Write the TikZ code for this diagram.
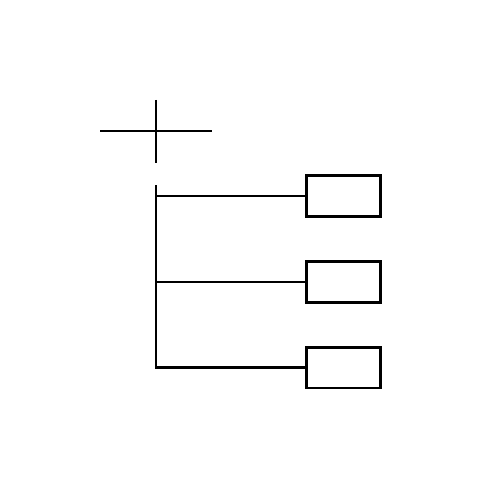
\documentclass[tikz,border=0pt]{standalone}
\usepackage{tikz}
\usetikzlibrary{positioning}
\tikzset{leaf/.style={rectangle, draw=black, fill=white, line width=1.7pt, minimum width=1.49cm, minimum height=0.82cm, inner sep=0pt},
stem/.style={line width=1.7pt}}
\begin{document}
\begin{tikzpicture}[x=0.02cm, y=-0.02cm]
\useasboundingbox (0,0) rectangle (500,500);
\coordinate (pl) at (100,131);
\coordinate (pr) at (212,131);
\coordinate (pt) at (156,100);
\coordinate (pb) at (156,163);
\draw[stem] (pl)--(pr);
\draw[stem] (pt)--(pb);
\node[leaf] (b1) at (343.5,196) {};
\node[leaf] (b2) at (343.5,282) {};
\node[leaf] (b3) at (343.5,367.5) {};
\coordinate (top) at (156,185);
\coordinate (j1) at (156,196);
\coordinate (j2) at (156,282);
\coordinate (j3) at (156,367.5);
\draw[stem] (top)--(j3)--(b3.west);
\draw[stem] (j1)--(b1.west);
\draw[stem] (j2)--(b2.west);
\end{tikzpicture}
\end{document}
